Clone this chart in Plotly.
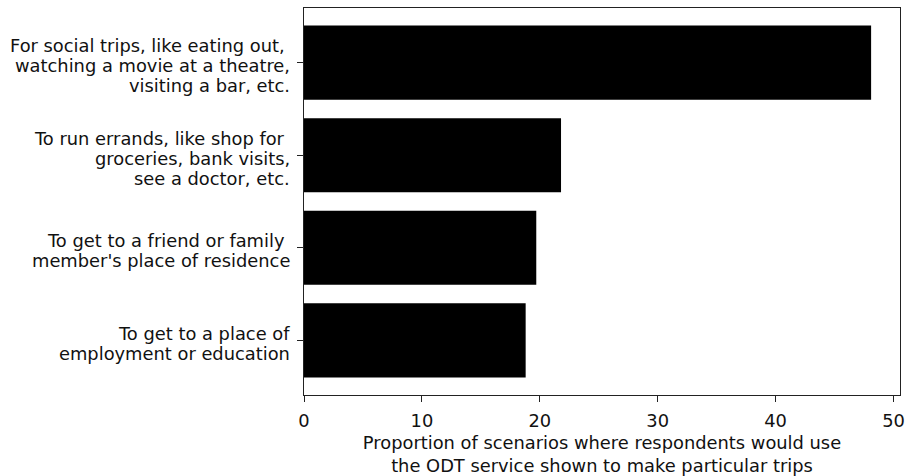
import plotly.graph_objects as go

# Trip purposes (top to bottom), one entry per text line, and share of scenarios (%)
purposes = [
    ["For social trips, like eating out,\u00a0", "watching a movie at a theatre,", "visiting a bar, etc."],
    ["To run errands, like shop for\u00a0", "groceries, bank visits,", "see a doctor, etc."],
    ["To get to a friend or family\u00a0", "member's place of residence"],
    ["To get to a place of", "employment or education"],
]
shares = [48.1, 21.8, 19.7, 18.8]
x_ticks = [0, 10, 20, 30, 40, 50]

# plot bottom-to-top so the first purpose sits on top
y_pos = list(range(len(purposes)))[::-1]

FONT = dict(family="DejaVu Sans", size=17.85, color="#111111")
LINE_STEP = 20  # px between label lines

fig = go.Figure(
    go.Bar(
        x=shares,
        y=y_pos,
        orientation="h",
        width=0.8,
        marker=dict(color="black", line=dict(width=0)),
    )
)

# category labels, right-aligned line by line next to the y axis
for lines, yv in zip(purposes, y_pos):
    n = len(lines)
    for j, line in enumerate(lines):
        fig.add_annotation(
            x=0, xref="paper", xanchor="right", xshift=-12,
            y=yv, yref="y", yanchor="middle",
            yshift=-(j - (n - 1) / 2) * LINE_STEP - 3,
            text=line, showarrow=False, font=FONT, align="right",
        )

fig.update_layout(
    width=905,
    height=476,
    margin=dict(l=304, r=5, t=8, b=81, autoexpand=False),
    paper_bgcolor="white",
    plot_bgcolor="white",
    font=FONT,
    showlegend=False,
    xaxis=dict(
        automargin=False,
        range=[0, 50.55],
        tickvals=x_ticks,
        ticktext=[str(v) for v in x_ticks],
        ticks="outside",
        ticklen=6,
        ticklabelstandoff=3,
        tickcolor="#222222",
        showline=True,
        linecolor="#222222",
        linewidth=1.3,
        mirror=True,
        showgrid=False,
        zeroline=False,
        title=dict(
            text="Proportion of scenarios where respondents would use<br>the ODT service shown to make particular trips",
            font=FONT,
            standoff=6,
        ),
        tickfont=FONT,
    ),
    yaxis=dict(
        automargin=False,
        range=[-0.59, 3.59],
        tickvals=y_pos,
        ticktext=["" for _ in y_pos],
        ticks="outside",
        ticklen=6,
        tickcolor="#222222",
        showline=True,
        linecolor="#222222",
        linewidth=1.3,
        mirror=True,
        showgrid=False,
        zeroline=False,
    ),
)

fig.write_html("out.html")
